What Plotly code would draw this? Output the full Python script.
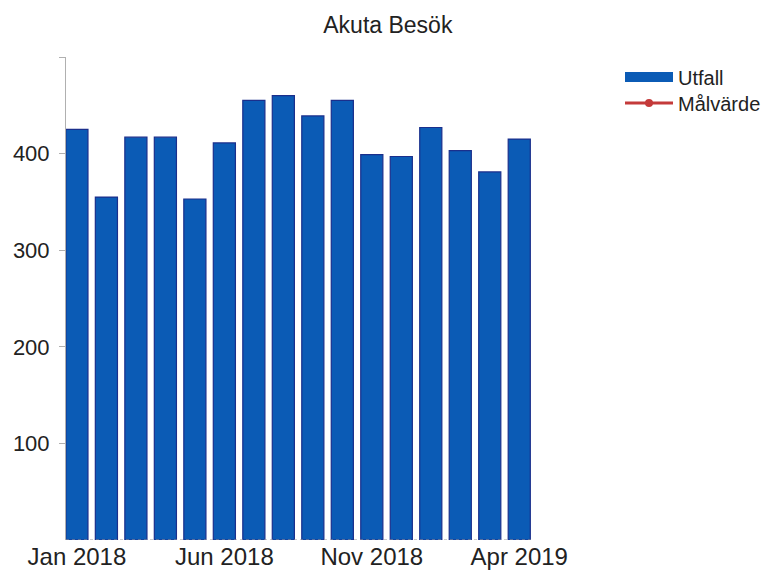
import plotly.graph_objects as go

# Monthly emergency visits, Jan 2018 - Apr 2019
months = ["Jan 2018", "Feb 2018", "Mar 2018", "Apr 2018", "May 2018", "Jun 2018",
          "Jul 2018", "Aug 2018", "Sep 2018", "Oct 2018", "Nov 2018", "Dec 2018",
          "Jan 2019", "Feb 2019", "Mar 2019", "Apr 2019"]
utfall = [425, 355, 417, 417, 353, 411, 455, 460, 439, 455, 399, 397, 427, 403, 381, 415]
malvarde = [None] * len(months)

x_ticks = ["Jan 2018", "Jun 2018", "Nov 2018", "Apr 2019"]
y_ticks = [100, 200, 300, 400, 500]
y_tick_text = ["100", "200", "300", "400", ""]

font_family = "Liberation Sans, Arial, sans-serif"
bar_fill = "#0b5bb5"
bar_edge = "#1a2f8c"
target_red = "#c43a3a"

fig = go.Figure()
fig.add_trace(go.Bar(
    x=months, y=utfall, name="Utfall", showlegend=False, legendgroup="utfall",
    marker=dict(color=bar_fill, line=dict(color=bar_edge, width=1.2)),
))
# wide legend swatch for the bar series
fig.add_trace(go.Scatter(
    x=[None], y=[None], name="Utfall", mode="lines", legendgroup="utfall",
    line=dict(color=bar_fill, width=16), legend="legend",
))
fig.add_trace(go.Scatter(
    x=months, y=malvarde, name="Målvärde", mode="lines+markers",
    line=dict(color=target_red, width=3), marker=dict(color=target_red, size=8),
    legend="legend2",
))

legend_style = dict(xref="container", yref="container", xanchor="left", yanchor="middle",
                    font=dict(size=20, color="#222222"), itemwidth=48,
                    bgcolor="rgba(0,0,0,0)")

fig.update_layout(
    width=768, height=570,
    margin=dict(l=66, r=234, t=57, b=30, autoexpand=False),
    paper_bgcolor="white", plot_bgcolor="white",
    font=dict(family=font_family, size=21, color="#222222"),
    title=dict(text="Akuta Besök", x=0.505, xref="container", xanchor="center",
               y=0.957, yref="container", yanchor="middle",
               font=dict(size=23, color="#222222")),
    bargap=0.25,
    showlegend=True,
    legend=dict(x=620 / 768, y=1 - 77 / 570, **legend_style),
    legend2=dict(x=620 / 768, y=1 - 103 / 570, **legend_style),
)
fig.update_xaxes(
    type="category", range=[-0.37, 15.5], automargin=False,
    tickmode="array", tickvals=x_ticks, ticktext=x_ticks,
    showgrid=False, zeroline=False, ticks="", showline=False,
    tickfont=dict(size=24),
)
fig.update_yaxes(
    range=[0, 500], automargin=False,
    tickmode="array", tickvals=y_ticks, ticktext=y_tick_text,
    showgrid=False, zeroline=False, showline=True, linecolor="#b0b0b0", linewidth=1,
    ticks="outside", ticklen=6, tickcolor="#b0b0b0", ticklabelstandoff=5,
    tickfont=dict(size=22),
)
# dotted baseline under the bars
fig.add_shape(type="line", xref="paper", yref="y", x0=0, x1=1, y0=0, y1=0,
              line=dict(color="#9a9a9a", width=1, dash="dot"))

fig.write_html("out.html")
